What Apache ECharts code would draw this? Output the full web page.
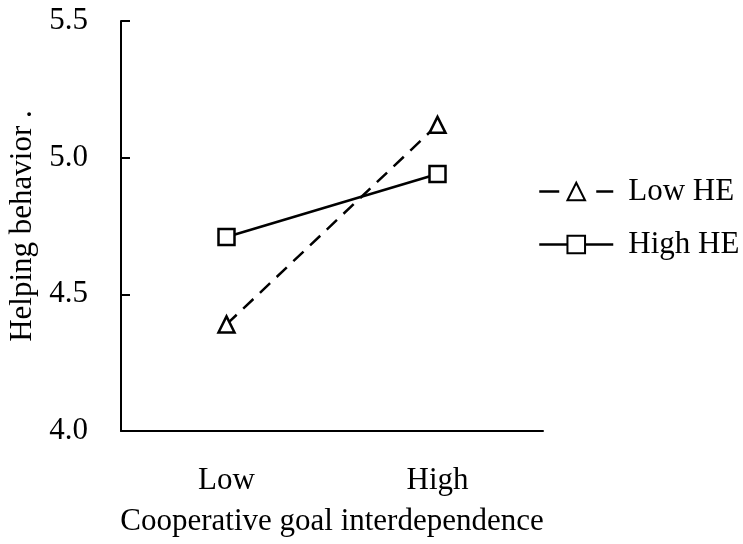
<!DOCTYPE html>
<html>
<head>
<meta charset="utf-8">
<script src="https://cdn.jsdelivr.net/npm/echarts@6/dist/echarts.min.js"></script>
<style>html,body{margin:0;padding:0;background:#fff}#c{width:743px;height:544px}</style>
</head>
<body>
<div id="c"></div>
<script>
const categories = ['Low', 'High'];
const lowHE = [4.39, 5.12];
const highHE = [4.71, 4.94];
const seriesNames = ['Low HE', 'High HE'];
const yTicks = [4.0, 4.5, 5.0, 5.5];

const font = '"Liberation Serif", "Times New Roman", serif';
const chart = echarts.init(document.getElementById('c'));
chart.setOption({
  animation: false,
  backgroundColor: '#fff',
  grid: {left: 121, right: 200, top: 21, bottom: 113, containLabel: false, outerBoundsMode: 'none'},
  legend: {
    left: 533, top: 171, orient: 'vertical', itemGap: 22,
    itemWidth: 74, itemHeight: 22,
    textStyle: {fontFamily: font, fontSize: 31, color: '#000', padding: [0, 0, 0, 10]},
    data: [
      {name: seriesNames[0], lineStyle: {type: [20, 37], width: 2.5}},
      {name: seriesNames[1], lineStyle: {type: 'solid', width: 2.5}}
    ]
  },
  xAxis: {
    type: 'category', data: categories, boundaryGap: true,
    name: 'Cooperative goal interdependence', nameLocation: 'middle', nameGap: 75,
    nameTextStyle: {fontFamily: font, fontSize: 31, color: '#000'},
    axisLine: {lineStyle: {color: '#000', width: 2}},
    axisTick: {inside: true, length: 8, lineStyle: {color: '#000', width: 2}},
    axisLabel: {fontFamily: font, fontSize: 31, color: '#000', margin: 34},
    splitLine: {show: false}
  },
  yAxis: {
    type: 'value', min: 4.0, max: 5.5, interval: 0.5,
    name: 'Helping behavior .', nameLocation: 'middle', nameGap: 78,
    nameTextStyle: {fontFamily: font, fontSize: 31, color: '#000'},
    axisLine: {show: true, lineStyle: {color: '#000', width: 2}},
    axisTick: {show: true, inside: true, length: 9, lineStyle: {color: '#000', width: 2}},
    axisLabel: {fontFamily: font, fontSize: 31, color: '#000', margin: 33,
      formatter: v => yTicks.includes(v) ? v.toFixed(1) : ''},
    splitLine: {show: false}
  },
  series: [
    {name: seriesNames[0], type: 'line', data: lowHE, symbol: 'triangle', symbolSize: 16,
     lineStyle: {color: '#000', width: 2.5, type: [14, 9]},
     itemStyle: {color: '#fff', borderColor: '#000', borderWidth: 2.5}},
    {name: seriesNames[1], type: 'line', data: highHE, symbol: 'rect', symbolSize: 16,
     lineStyle: {color: '#000', width: 2.5, type: 'solid'},
     itemStyle: {color: '#fff', borderColor: '#000', borderWidth: 2.5}}
  ]
});
</script>
</body>
</html>
